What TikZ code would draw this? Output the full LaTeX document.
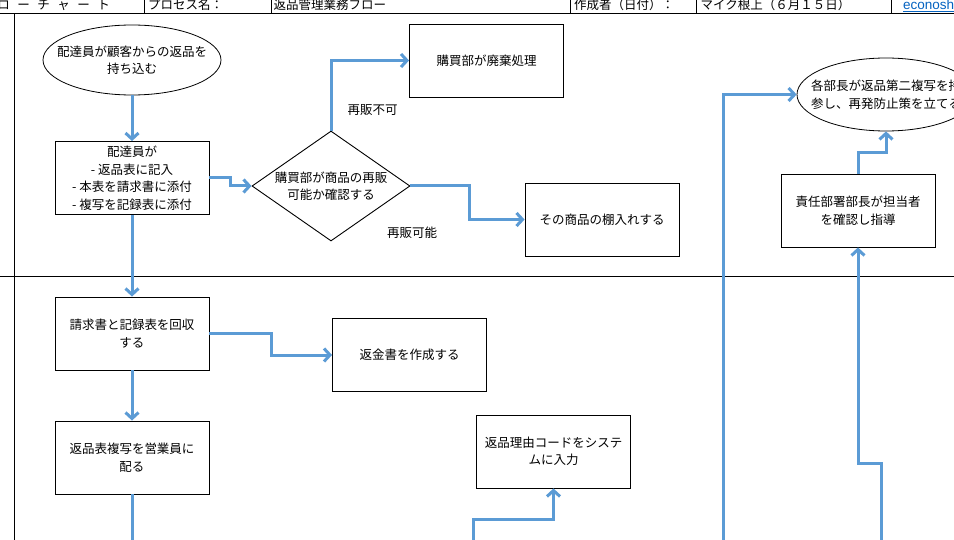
\documentclass[tikz,border=0pt]{standalone}
\usepackage{fontspec}
\usepackage{xcolor}
\usetikzlibrary{shapes.geometric,arrows.meta}
\setmainfont{Noto Sans CJK JP}
\newfontfamily\linkfont{Liberation Sans}
\definecolor{flowblue}{HTML}{5B9BD5}
\definecolor{linkblue}{HTML}{0563C1}
\newcommand{\jpsize}{\fontsize{12.5}{17.5}\selectfont}
\tikzset{
  rule/.style={draw=black, line width=0.9pt},
  box/.style={draw=black, line width=0.9pt, minimum width=154pt, minimum height=73pt,
    inner sep=0pt, align=center, font=\jpsize},
  oval/.style={ellipse, draw=black, line width=0.8pt, minimum width=178pt, inner sep=0pt},
  decide/.style={diamond, draw=black, line width=0.9pt, aspect=1.44,
    minimum width=158pt, minimum height=110pt, inner sep=0pt},
  txt/.style={align=center, inner sep=0pt, font=\jpsize},
  flow/.style={draw=flowblue, line width=3pt, -{Straight Barb[length=6pt,width=13pt]}},
  feed/.style={draw=flowblue, line width=3pt},
  lab/.style={inner sep=0pt, font=\jpsize},
  head/.style={inner sep=0pt, anchor=base west, font=\jpsize},
}
\begin{document}
\begin{tikzpicture}[x=1pt,y=-1pt]
  \useasboundingbox (0,0) rectangle (954,540);
  \clip (0,0) rectangle (954,540);
  \fill[white] (0,0) rectangle (954,540);

  % header row
  \draw[rule] (0,13.3) -- (954,13.3);
  \foreach \x in {144.3,271.7,570.7,696.7,891.5}
    \draw[rule] (\x,0) -- (\x,13.3);
  \node[head, anchor=base east] (title) at (110,9.5) {\addfontfeature{LetterSpace=60}フローチャート};
  \node[head] (proclab) at (148,9.5) {プロセス名：};
  \node[head] (procname) at (273.5,9.5) {返品管理業務フロー};
  \node[head] (authlab) at (574,9.5) {作成者（日付）：};
  \node[head] (authname) at (700.5,9.5) {マイク根上（６月１５日）};
  \node[head, font=\linkfont\fontsize{13.5}{15}\selectfont, text=linkblue] (site) at (903,9.5) {\underline{econosh}};

  % lanes
  \draw[rule] (14.7,13.3) -- (14.7,540);
  \draw[rule] (0,276.7) -- (954,276.7);

  % shapes
  \node[oval, minimum height=70pt] (pickup) at (132,60) {};
  \node[txt] (pickup-t) at (pickup) {配達員が顧客からの返品を\\持ち込む};
  \node[box] (deliver) at (132,178) {配達員が\\- 返品表に記入\\- 本表を請求書に添付\\- 複写を記録表に添付};
  \node[decide] (check) at (331,186) {};
  \node[txt] (check-t) at (check) {購買部が商品の再販\\可能か確認する};
  \node[box] (dispose) at (486.5,60.5) {購買部が廃棄処理};
  \node[box] (shelve) at (602,219.5) {その商品の棚入れする};
  \node[oval, minimum height=73pt] (review) at (886,94.5) {};
  \node[txt] (review-t) at (review) {各部長が返品第二複写を持\\参し、再発防止策を立てる};
  \node[box] (guide) at (858,210.5) {責任部署部長が担当者\\を確認し指導};
  \node[box] (collect) at (132,333.5) {請求書と記録表を回収\\する};
  \node[box] (refund) at (409.5,355) {返金書を作成する};
  \node[box] (distribute) at (132,457.5) {返品表複写を営業員に\\配る};
  \node[box] (code) at (553.5,451.5) {返品理由コードをシステ\\ムに入力};

  \node[lab] (nosale) at (372.5,110) {再販不可};
  \node[lab] (resale) at (412,233) {再販可能};

  % connectors
  \coordinate (out1) at (132,545);
  \coordinate (in1) at (473,545);
  \coordinate (in2) at (723,545);
  \coordinate (in3) at (881,545);

  \draw[flow] (pickup) -- (deliver);
  \draw[flow] (deliver.east) -- ++(21,0) |- (check.west);
  \draw[flow] (check.north) |- (dispose.west);
  \draw[flow] (check.east) -- ++(59,0) |- (shelve.west);
  \draw[flow] (deliver) -- (collect);
  \draw[flow] (collect.east) -- ++(62,0) |- (refund.west);
  \draw[flow] (collect) -- (distribute);
  \draw[feed] (distribute.south) -- (out1);
  \draw[flow] (in1) -- ++(0,-26) -| (code.south);
  \draw[flow] (in2) |- (review.west);
  \draw[flow] (in3) -- ++(0,-82) -| (guide.south);
  \draw[flow] (guide.north) -- ++(0,-21) -| (review.south);
\end{tikzpicture}
\end{document}
